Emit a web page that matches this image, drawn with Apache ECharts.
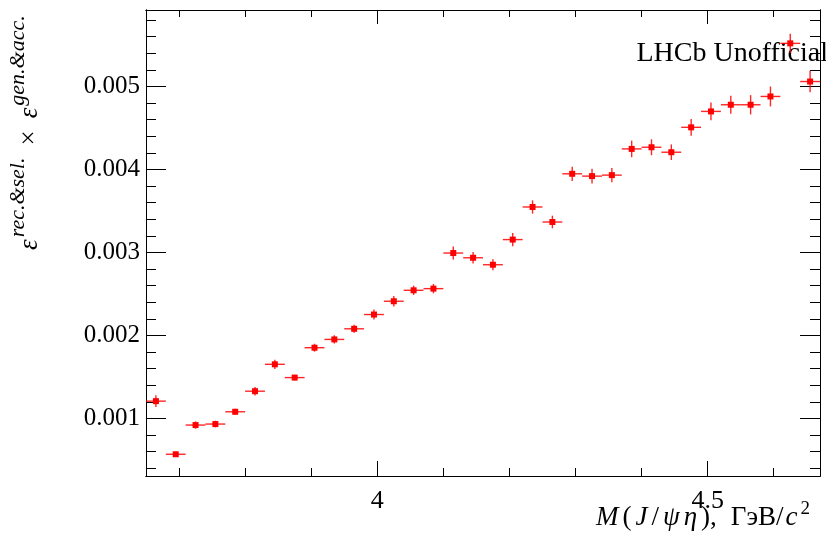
<!DOCTYPE html>
<html>
<head>
<meta charset="utf-8">
<script src="https://cdn.jsdelivr.net/npm/echarts@6/dist/echarts.min.js"></script>
<style>
html,body{margin:0;padding:0;background:#fff;}
#chart{width:826px;height:536px;}
</style>
</head>
<body>
<div id="chart"></div>
<script>
// ---- data ----
const binCenters = [3.665, 3.695, 3.725, 3.755, 3.785, 3.815, 3.845, 3.875, 3.905, 3.935,
  3.965, 3.995, 4.025, 4.055, 4.085, 4.115, 4.145, 4.175, 4.205, 4.235,
  4.265, 4.295, 4.325, 4.355, 4.385, 4.415, 4.445, 4.475, 4.505, 4.535,
  4.565, 4.595, 4.625, 4.655];
const binHalfWidth = 0.015;
const efficiency = [0.001208, 0.000568, 0.000920, 0.000932, 0.001080, 0.001328, 0.001652, 0.001492, 0.001852, 0.001952,
  0.002080, 0.002252, 0.002412, 0.002544, 0.002564, 0.002993, 0.002936, 0.002852, 0.003155, 0.003548,
  0.003367, 0.003948, 0.003920, 0.003932, 0.004248, 0.004268, 0.004208, 0.004508, 0.004700, 0.004780,
  0.004780, 0.004880, 0.005520, 0.005060];
const efficiencyErr = [0.000070, 0.000028, 0.000044, 0.000040, 0.000036, 0.000052, 0.000056, 0.000034, 0.000048, 0.000050,
  0.000048, 0.000060, 0.000062, 0.000056, 0.000056, 0.000078, 0.000070, 0.000066, 0.000080, 0.000080,
  0.000076, 0.000086, 0.000090, 0.000086, 0.000100, 0.000096, 0.000094, 0.000100, 0.000106, 0.000108,
  0.000116, 0.000120, 0.000116, 0.000130];
const xMajorTicks = [4, 4.5];
const xTickLabels = ['4', '4.5'];
const xMinorTicks = [3.7, 3.8, 3.9, 4.1, 4.2, 4.3, 4.4, 4.6];
const yMajorTicks = [0.001, 0.002, 0.003, 0.004, 0.005];
const yTickLabels = ['0.001', '0.002', '0.003', '0.004', '0.005'];
const yMinorTicks = [0.0004, 0.0006, 0.0008, 0.0012, 0.0014, 0.0016, 0.0018, 0.0022, 0.0024, 0.0026, 0.0028,
  0.0032, 0.0034, 0.0036, 0.0038, 0.0042, 0.0044, 0.0046, 0.0048, 0.0052, 0.0054, 0.0056, 0.0058];
const xRange = [3.65, 4.67];
const yRange = [0.000306, 0.005922];

// ---- chart ----
const FONT = '"Liberation Serif", "DejaVu Serif", serif';
const chart = echarts.init(document.getElementById('chart'), null, {renderer: 'canvas'});

function xAxisDef(pos, ticks, len, labels) {
  return {
    type: 'value', position: pos, min: xRange[0], max: xRange[1],
    axisLine: {show: true, onZero: false, lineStyle: {color: '#000', width: 1}},
    axisTick: {show: true, inside: true, length: len, customValues: ticks, lineStyle: {color: '#000', width: 1}},
    axisLabel: labels ? {
      show: true, customValues: ticks, margin: 12,
      formatter: v => xTickLabels[xMajorTicks.findIndex(t => Math.abs(t - v) < 1e-9)] || '',
      fontFamily: FONT, fontSize: 26, color: '#000'
    } : {show: false},
    splitLine: {show: false}
  };
}
function yAxisDef(pos, ticks, len, labels) {
  return {
    type: 'value', position: pos, min: yRange[0], max: yRange[1],
    axisLine: {show: true, onZero: false, lineStyle: {color: '#000', width: 1}},
    axisTick: {show: true, inside: true, length: len, customValues: ticks, lineStyle: {color: '#000', width: 1}},
    axisLabel: labels ? {
      show: true, customValues: ticks, margin: 6,
      formatter: v => yTickLabels[yMajorTicks.findIndex(t => Math.abs(t - v) < 1e-12)] || '',
      fontFamily: FONT, fontSize: 25, color: '#000'
    } : {show: false},
    splitLine: {show: false}
  };
}

const seriesData = binCenters.map((x, i) => [x, efficiency[i], efficiencyErr[i]]);

chart.setOption({
  backgroundColor: '#fff',
  animation: false,
  grid: {left: 146, right: 6, top: 10, bottom: 60, containLabel: false},
  xAxis: [
    xAxisDef('bottom', xMajorTicks, 15, true),
    xAxisDef('bottom', xMinorTicks, 8, false),
    xAxisDef('top', xMajorTicks, 14, false),
    xAxisDef('top', xMinorTicks, 7, false)
  ],
  yAxis: [
    yAxisDef('left', yMajorTicks, 20, true),
    yAxisDef('left', yMinorTicks, 10, false),
    yAxisDef('right', yMajorTicks, 20, false),
    yAxisDef('right', yMinorTicks, 10, false)
  ],
  series: [{
    type: 'custom',
    xAxisIndex: 0, yAxisIndex: 0,
    clip: true,
    data: seriesData,
    renderItem: function (params, api) {
      const x = api.value(0), y = api.value(1), e = api.value(2);
      const pL = api.coord([x - binHalfWidth, y]);
      const pR = api.coord([x + binHalfWidth, y]);
      const pT = api.coord([x, y + e]);
      const pB = api.coord([x, y - e]);
      const c = api.coord([x, y]);
      const stroke = {stroke: '#ff0000', lineWidth: 1.4, opacity: 0.85};
      const s = 6;
      return {
        type: 'group',
        children: [
          {type: 'line', shape: {x1: pL[0], y1: pL[1], x2: pR[0], y2: pR[1]}, style: stroke},
          {type: 'line', shape: {x1: pT[0], y1: pT[1], x2: pB[0], y2: pB[1]}, style: stroke},
          {type: 'rect', shape: {x: c[0] - s / 2, y: c[1] - s / 2, width: s, height: s}, style: {fill: '#ff0000'}}
        ]
      };
    }
  }],
  graphic: [
    {
      type: 'text', x: 828, y: 54,
      style: {text: 'LHCb Unofficial', x: 0, y: 0, align: 'right', verticalAlign: 'middle',
        font: '28px ' + FONT, fill: '#000'}
    },
    {
      type: 'text', x: 810, y: 516,
      style: {
        text: '{i|M}{r|(}{i|J}{r|/}{i|ψ}{i|η}{r|),}{u|ГэВ/}{i|c}{s|2}',
        x: 0, y: 0, align: 'right', verticalAlign: 'middle',
        rich: {
          i: {fontFamily: FONT, fontStyle: 'italic', fontSize: 27, fill: '#000', verticalAlign: 'bottom', lineHeight: 30, padding: [0, 2, 0, 2]},
          r: {fontFamily: FONT, fontSize: 27, fill: '#000', verticalAlign: 'bottom', lineHeight: 30, padding: [0, 2, 0, 2]},
          u: {fontFamily: FONT, fontSize: 27, fill: '#000', verticalAlign: 'bottom', lineHeight: 30, padding: [0, 0, 0, 12]},
          s: {fontFamily: FONT, fontSize: 19, fill: '#000', verticalAlign: 'bottom', lineHeight: 22, padding: [0, 0, 12, 1]}
        }
      }
    },
    {
      type: 'text', x: 28, y: 250, rotation: Math.PI / 2,
      style: {
        text: '{e|ε}{s|rec.&sel.}{r|×}{e|ε}{s|gen.&acc.}',
        x: 0, y: 0, align: 'left', verticalAlign: 'middle',
        rich: {
          e: {fontFamily: FONT, fontStyle: 'italic', fontSize: 27, fill: '#000', verticalAlign: 'bottom', lineHeight: 30},
          r: {fontFamily: FONT, fontSize: 27, fill: '#000', verticalAlign: 'bottom', lineHeight: 30, padding: [0, 12, 0, 12]},
          s: {fontFamily: FONT, fontStyle: 'italic', fontSize: 22, fill: '#000', verticalAlign: 'bottom', lineHeight: 24, padding: [0, 0, 14, 2]}
        }
      }
    }
  ]
});
</script>
</body>
</html>
